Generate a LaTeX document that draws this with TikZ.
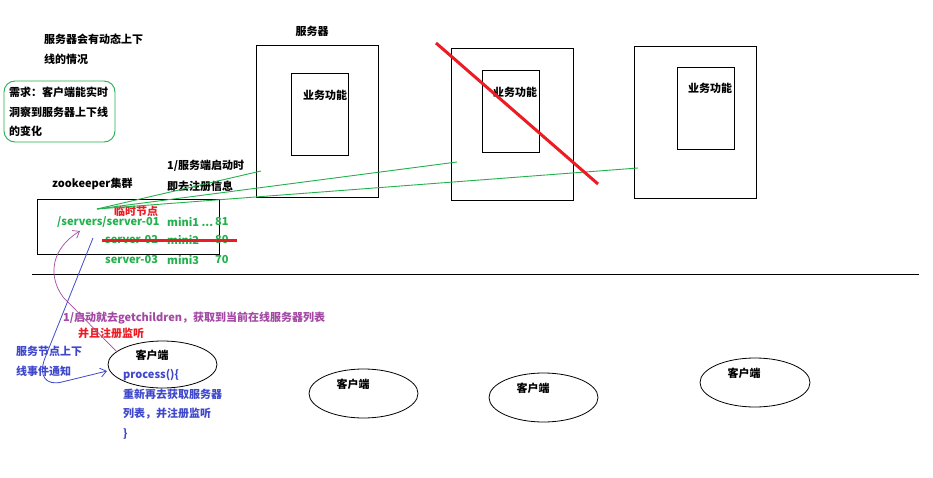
\documentclass[tikz,border=0pt]{standalone}
\usepackage{fontspec}
\setmainfont{Noto Sans CJK SC}
\usetikzlibrary{shapes.geometric,arrows.meta}
\definecolor{zgreen}{RGB}{34,177,76}
\definecolor{zred}{RGB}{237,28,36}
\definecolor{zblue}{RGB}{63,72,204}
\definecolor{zpurple}{RGB}{163,73,164}
\tikzset{
  txt/.style={anchor=west,inner sep=0pt,font=\fontsize{11}{12}\selectfont\bfseries},
  box/.style={draw=black,line width=0.9pt,inner sep=0pt},
  cli/.style={draw=black,line width=0.8pt,ellipse,inner sep=0pt},
  gline/.style={draw=zgreen,line width=0.9pt},
  strike/.style={draw=zred,line width=3pt},
  tip/.style={-{Straight Barb[length=6pt,width=9pt]}},
}
\begin{document}
\begin{tikzpicture}[x=1pt,y=-1pt]
\useasboundingbox (0,0) rectangle (933,478);
\fill[white] (0,0) rectangle (933,478);

% top-left notes
\node[txt] (n1) at (44,39) {服务器会有动态上下};
\node[txt] (n2) at (44,59) {线的情况};
\draw[zgreen,line width=0.9pt,rounded corners=11pt] (4,81) rectangle (115,142);
\node[txt] (r1) at (9,92) {需求：客户端能实时};
\node[txt] (r2) at (9,112) {洞察到服务器上下线};
\node[txt] (r3) at (9,131) {的变化};

% servers
\node[txt,anchor=center] (stitle) at (312,31) {服务器};
\node[box,minimum width=122pt,minimum height=152pt] (s1) at (317,121) {};
\node[box,minimum width=57pt,minimum height=82pt] (f1) at (319.5,114) {};
\node[txt,anchor=center] (t1) at (325,95) {业务功能};

\node[box,minimum width=122pt,minimum height=152pt] (s2) at (512,124) {};
\node[box,minimum width=57pt,minimum height=82pt] (f2) at (510.5,111) {};
\node[txt,anchor=center] (t2) at (515,92) {业务功能};

\node[box,minimum width=122pt,minimum height=152pt] (s3) at (695,122) {};
\node[box,minimum width=57pt,minimum height=82pt] (f3) at (705.5,108) {};
\node[txt,anchor=center] (t3) at (710,88) {业务功能};

% zookeeper
\node[txt] (zk) at (52,184) {zookeeper集群};
\node[txt] (reg1) at (167,166) {1/服务端启动时};
\node[txt] (reg2) at (167,186) {即去注册信息};
\node[box,minimum width=182pt,minimum height=55pt] (zbox) at (128,226.5) {};
\node[txt,text=zred] (tmp) at (114,211) {临时节点};
\node[txt,text=zgreen] (a1) at (57,222) {/servers/server-01};
\node[txt,text=zgreen] (a2) at (167,222) {mini1 ...};
\node[txt,text=zgreen] (a3) at (215,222) {81};
\node[txt,text=zgreen] (b1) at (105,240) {server-02};
\node[txt,text=zgreen] (b2) at (167,240) {mini2};
\node[txt,text=zgreen] (b3) at (215,240) {80};
\node[txt,text=zgreen] (c1) at (105,260) {server-03};
\node[txt,text=zgreen] (c2) at (167,260) {mini3};
\node[txt,text=zgreen] (c3) at (215,260) {70};
\coordinate (sL) at (102,240);
\coordinate (sR) at (237,240);
\draw[strike] (sL) -- (sR);

% green registration lines
\coordinate (g0) at (97,209);
\coordinate (g1) at (261,171);
\coordinate (g2) at (457,162);
\coordinate (g3) at (638,168);
\draw[gline] (g0) -- (g1);
\draw[gline] (g0) -- (g2);
\draw[gline] (g0) -- (g3);

% red cross-out of server 2
\coordinate (x1) at (436,43);
\coordinate (x2) at (598,184);
\draw[zred,line width=3pt] (x1) -- (x2);

% separator
\coordinate (h1) at (32,274);
\coordinate (h2) at (919,274);
\draw[black,line width=0.9pt] (h1) -- (h2);

% clients
\node[cli,minimum width=109pt,minimum height=47pt] (cl1) at (162.5,364.5) {};
\node[txt,anchor=center] (cl1t) at (152,355) {客户端};
\node[txt,text=zblue] (p1) at (123,375) {process()\{};
\node[txt,text=zblue] (p2) at (123,394) {重新再去获取服务器};
\node[txt,text=zblue] (p3) at (123,414) {列表，并注册监听};
\node[txt,text=zblue] (p4) at (123,434) {\}};

\node[cli,minimum width=109pt,minimum height=49pt] (cl2) at (363.5,393.5) {};
\node[txt,anchor=center] (cl2t) at (353,384) {客户端};
\node[cli,minimum width=109pt,minimum height=49pt] (cl3) at (543.5,397.5) {};
\node[txt,anchor=center] (cl3t) at (533,388) {客户端};
\node[cli,minimum width=110pt,minimum height=49pt] (cl4) at (755,382.5) {};
\node[txt,anchor=center] (cl4t) at (744,373) {客户端};

% annotations
\node[txt,text=zpurple] (gc) at (63,318) {1/启动就去getchildren，获取到当前在线服务器列表};
\node[txt,text=zred] (gc2) at (78,333) {并且注册监听};
\node[txt,text=zblue] (ev1) at (16,351) {服务节点上下};
\node[txt,text=zblue] (ev2) at (16,371) {线事件通知};

% purple: client watches /servers
\coordinate (pS) at (117,352);
\coordinate (pE) at (80,231);
\draw[zpurple,line width=0.7pt,tip] (pS) -- (63,297) .. controls (47,275) and (52,248) .. (pE);

% blue: event notification back to client
\coordinate (bS) at (93,238);
\coordinate (bE) at (107,371);
\draw[zblue,line width=0.8pt,tip] (bS) -- (45,358) .. controls (38,376) and (46,386) .. (62,382) -- (bE);
\end{tikzpicture}
\end{document}
